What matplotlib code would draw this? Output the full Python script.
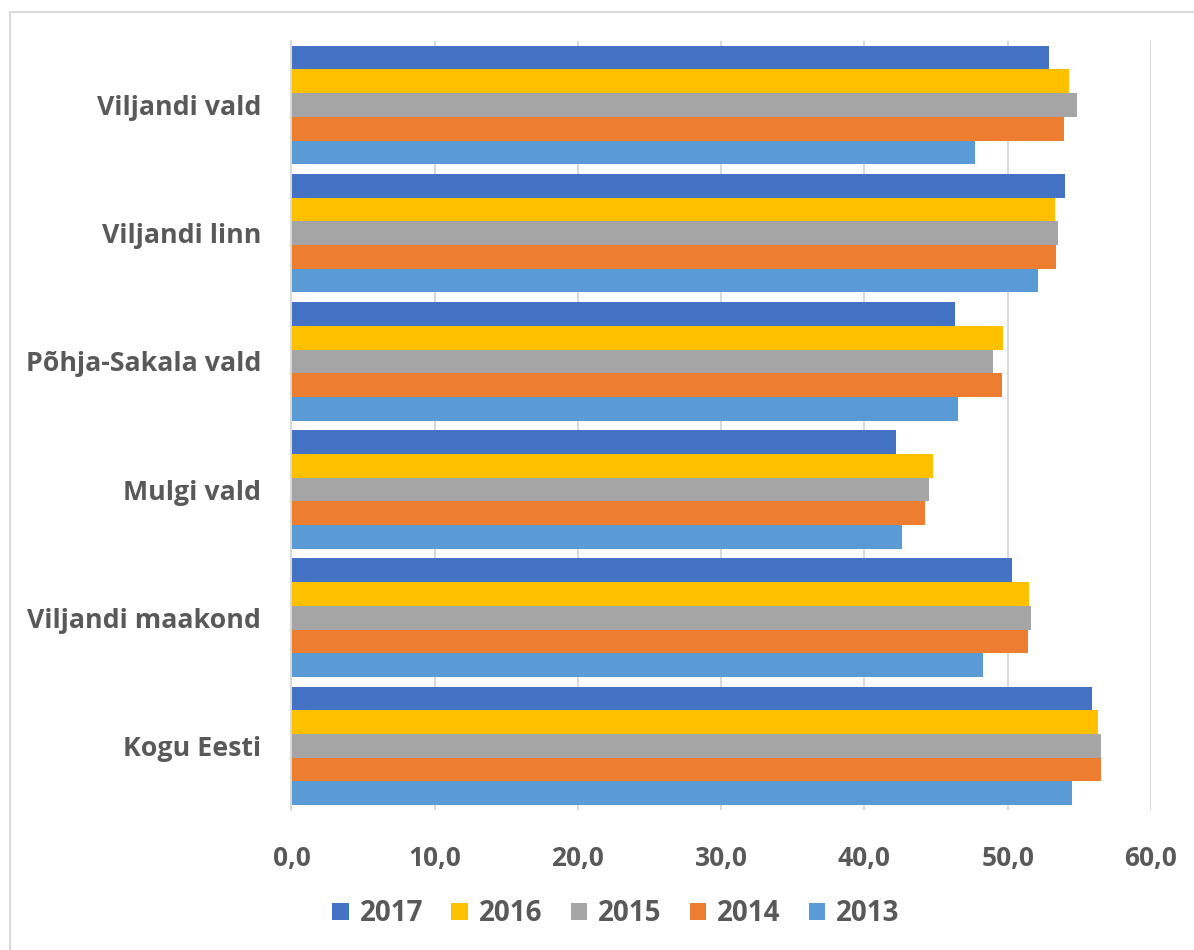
import numpy as np
import matplotlib
matplotlib.use("Agg")
import matplotlib.pyplot as plt
from matplotlib.patches import Rectangle, Patch

plt.rcParams['font.family'] = ['Open Sans', 'DejaVu Sans']

categories = ["Viljandi vald", "Viljandi linn", "Põhja-Sakala vald",
              "Mulgi vald", "Viljandi maakond", "Kogu Eesti"]
years = ["2017", "2016", "2015", "2014", "2013"]
v2017 = [52.9, 54.0, 46.3, 42.2, 50.3, 55.9]
v2016 = [54.3, 53.3, 49.7, 44.8, 51.5, 56.3]
v2015 = [54.8, 53.5, 49.0, 44.5, 51.6, 56.5]
v2014 = [53.9, 53.4, 49.6, 44.2, 51.4, 56.5]
v2013 = [47.7, 52.1, 46.5, 42.6, 48.3, 54.5]
series = [v2017, v2016, v2015, v2014, v2013]
colors = ["#4472C4", "#FFC000", "#A5A5A5", "#ED7D31", "#5B9BD5"]

txt = "#595959"
grid = "#D9D9D9"

fig = plt.figure(figsize=(11.94, 9.5), dpi=100)
ax = fig.add_axes([0.2441, 0.1474, 0.7199, 0.8095])

y = np.arange(len(categories))
h = 0.925 / len(series)
for j, (vals, col) in enumerate(zip(series, colors)):
    ax.barh(y + (j - 2) * h, vals, height=h, color=col, label=years[j], zorder=3)

ax.set_xlim(0, 60)
ax.set_ylim(len(categories) - 0.5, -0.5)
ax.set_xticks(np.arange(0, 61, 10))
ax.set_xticklabels(["{:.1f}".format(t).replace(".", ",") for t in np.arange(0, 61, 10)])
ax.set_yticks(y)
ax.set_yticklabels(categories)
ax.grid(axis='x', color=grid, linewidth=1.4, zorder=0)
for s in ["top", "right", "bottom"]:
    ax.spines[s].set_visible(False)
ax.spines["left"].set_color(grid)
ax.spines["left"].set_linewidth(1.4)
ax.spines["left"].set_zorder(4)
ax.tick_params(axis='x', length=0, pad=25, labelsize=19, labelcolor=txt)
ax.tick_params(axis='y', length=0, pad=22, labelsize=19.3, labelcolor=txt)
for lab in ax.get_xticklabels() + ax.get_yticklabels():
    lab.set_fontweight('bold')

handles = [Patch(facecolor=c, label=l) for c, l in zip(colors, years)]
fig.legend(handles=handles, loc='center', bbox_to_anchor=(0.516, 0.038), ncol=5,
           frameon=False, prop={'size': 20, 'weight': 'bold'}, labelcolor=txt,
           handlelength=0.6, handleheight=0.6, handletextpad=0.4, columnspacing=1.0)

fig.add_artist(Rectangle((10 / 1194, -0.1), 1.2, 1 - 12 / 950 + 0.1, fill=False,
                         edgecolor=grid, linewidth=1.5, transform=fig.transFigure))

fig.savefig("out.png", dpi=100)
